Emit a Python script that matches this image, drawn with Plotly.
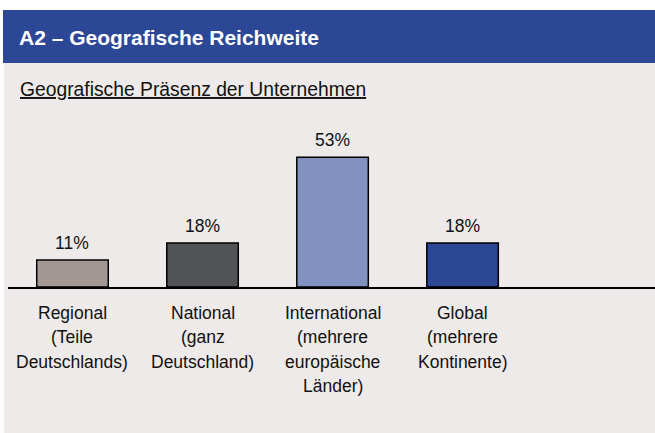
import plotly.graph_objects as go

category_lines = [["Regional", "(Teile", "Deutschlands)"],
                  ["National", "(ganz", "Deutschland)"],
                  ["International", "(mehrere", "europäische", "Länder)"],
                  ["Global", "(mehrere", "Kontinente)"]]
values = [11, 18, 53, 18]
bar_colors = ["#A49894", "#525357", "#8191C0", "#2C4795"]
title_text = "A2 – Geografische Reichweite"
subtitle_text = "Geografische Präsenz der Unternehmen"

W, H = 655, 433
L, R, T, B = 8, 0, 140, 146
PW, PH = W - L - R, H - T - B

def px(x):
    return (x - L) / PW

def py(y):
    return (H - B - y) / PH

FONT = "Liberation Sans, Arial, sans-serif"

fig = go.Figure()
fig.add_trace(go.Bar(
    x=list(range(len(values))), y=values, width=0.55,
    marker=dict(color=bar_colors, line=dict(color="black", width=1.5)),
    hoverinfo="skip",
))

for i, v in enumerate(values):
    fig.add_annotation(x=i, y=v, text=f"{v}%", showarrow=False, yanchor="bottom",
                       yshift=5, font=dict(family=FONT, size=17.5, color="#111"))

for i, lines in enumerate(category_lines):
    for k, line in enumerate(lines):
        fig.add_annotation(x=i, xref="x", y=0, yref="paper", text=line, showarrow=False,
                           yanchor="middle", yshift=-(26 + 24.3 * k),
                           font=dict(family=FONT, size=17.5, color="#111"))

shapes = [
    dict(type="rect", xref="paper", yref="paper", x0=px(3), x1=px(656), y0=py(63), y1=py(10),
         fillcolor="#2C4795", line=dict(width=0), layer="below"),
    dict(type="rect", xref="paper", yref="paper", x0=px(4), x1=px(656), y0=py(433), y1=py(63),
         fillcolor="#EEEAE9", line=dict(width=0), layer="below"),
]
fig.update_layout(shapes=shapes)

fig.add_annotation(xref="paper", yref="paper", x=px(17), y=py(37.5), xanchor="left", yanchor="middle",
                   text=f"<b>{title_text}</b>", showarrow=False,
                   font=dict(family=FONT, size=21, color="white"))
fig.add_annotation(xref="paper", yref="paper", x=px(18), y=py(89.5), xanchor="left", yanchor="middle",
                   text=f"<u>{subtitle_text}</u>", showarrow=False,
                   font=dict(family=FONT, size=19.3, color="#111"))

fig.update_layout(
    width=W, height=H,
    margin=dict(l=L, r=R, t=T, b=B, pad=0),
    paper_bgcolor="white", plot_bgcolor="rgba(0,0,0,0)",
    showlegend=False,
    xaxis=dict(range=[-0.496, 4.48], showticklabels=False, showline=True, linecolor="black",
               linewidth=2, showgrid=False, zeroline=False, ticks="", fixedrange=True),
    yaxis=dict(range=[0, 60], visible=False, fixedrange=True),
)

fig.write_html("out.html", config={"displayModeBar": False},
               post_script="document.body.style.margin='0';document.body.style.overflow='hidden';")
